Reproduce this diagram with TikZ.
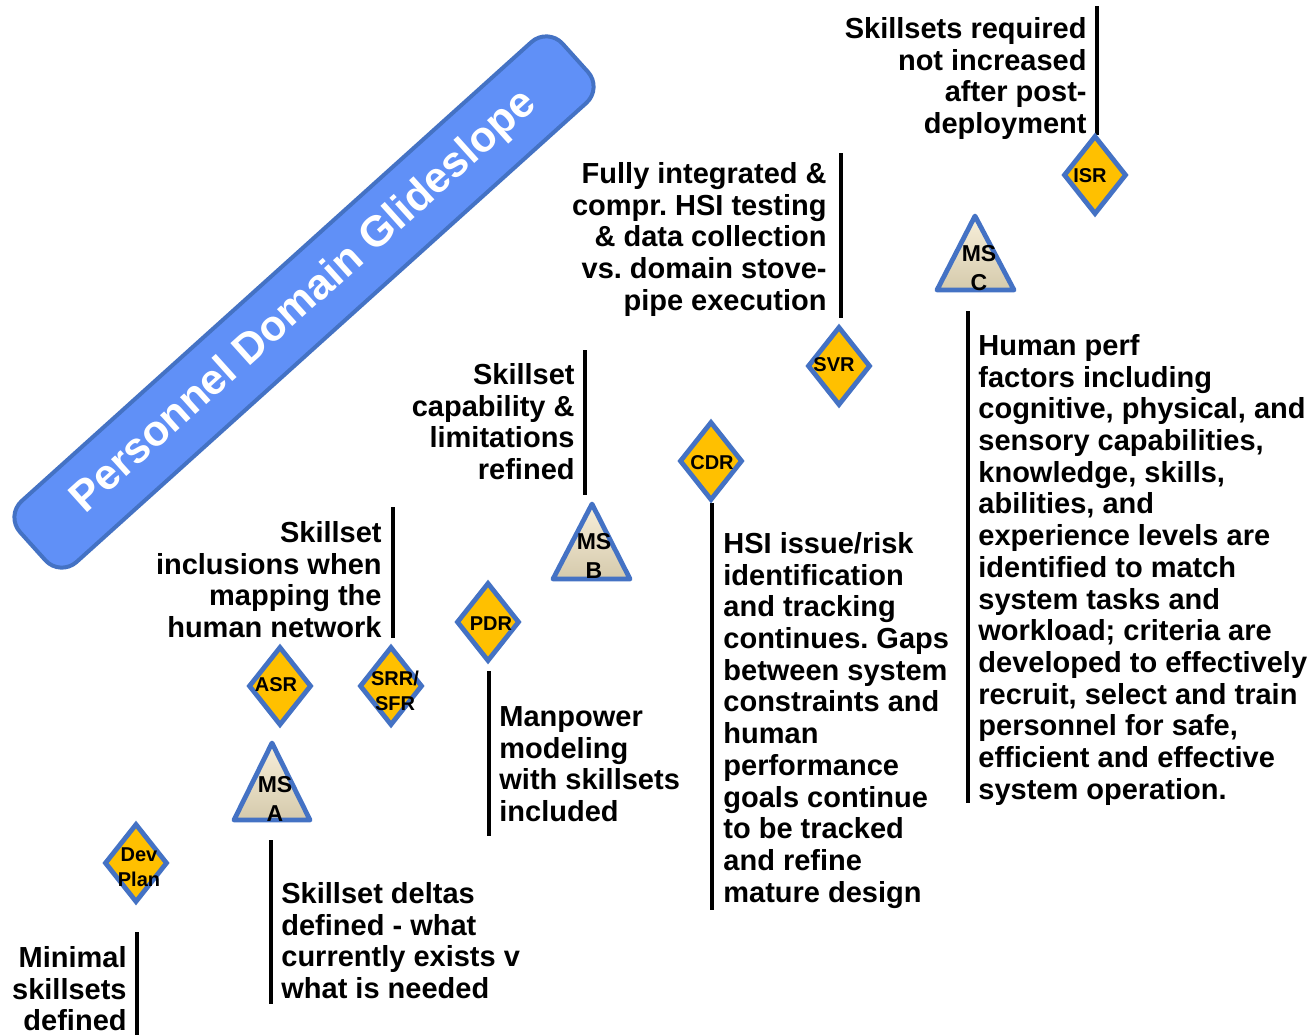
\documentclass[tikz,border=0pt]{standalone}
\usepackage{fontspec}
\setmainfont{Liberation Sans}
\usetikzlibrary{shapes.geometric}
\frenchspacing

\definecolor{hsiblue}{HTML}{4472C4}
\definecolor{hsigold}{HTML}{FFC000}
\definecolor{bannerblue}{HTML}{6090F7}
\definecolor{mstop}{HTML}{F8EFDA}
\definecolor{msbot}{HTML}{D5CAAC}

\tikzset{
  note/.style={font=\fontsize{14.5}{15.85}\selectfont\bfseries, inner sep=0pt},
  noteright/.style={note, align=right, anchor=north east},
  noteleft/.style={note, align=left, anchor=north west},
  bar/.style={line width=2pt},
  review/.style={diamond, draw=hsiblue, fill=hsigold, line width=2.4pt,
    minimum width=31.5pt, minimum height=39.5pt, inner sep=0pt},
  reviewtext/.style={font=\fontsize{10}{12.5}\selectfont\bfseries, align=center, inner sep=0pt},
  milestone/.style={draw=hsiblue, line width=2.4pt, line join=round,
    top color=mstop, bottom color=msbot},
  mstext/.style={font=\fontsize{11.5}{14.5}\selectfont\bfseries, align=center,
    inner sep=0pt, anchor=north},
  banner/.style={draw=hsiblue, fill=bannerblue, line width=2pt, rounded corners=11pt,
    rotate=42, minimum width=365pt, minimum height=41pt, inner sep=0pt,
    text=white, font=\fontsize{21.5}{24}\selectfont\bfseries},
}

\begin{document}
\begin{tikzpicture}[x=0.5pt, y=-0.5pt]
    \useasboundingbox (0,0) rectangle (1311,1035);

    % glideslope banner
    \node[banner] (glide) at (304,302) {Personnel Domain Glideslope};

    % bars beside the notes
    \draw[bar] (137,932) -- (137,1035);
    \draw[bar] (271,840) -- (271,1004);
    \draw[bar] (393,507) -- (393,638);
    \draw[bar] (489,671) -- (489,836);
    \draw[bar] (585,350) -- (585,495);
    \draw[bar] (712,503) -- (712,910);
    \draw[bar] (841,153) -- (841,318);
    \draw[bar] (968,311) -- (968,803);
    \draw[bar] (1097,6) -- (1097,135);

    % reviews
    \foreach \nm/\cx/\cy/\lx/\ly/\txt in {
        devplan/136/863/139/867/{Dev\\Plan},
        asr/280/686/276/685/ASR,
        srr/391/686/395/691/{SRR/\\SFR},
        pdr/488/622/491/624/PDR,
        cdr/711/461/712/463/CDR,
        svr/839/366/834/365/SVR,
        isr/1095/175/1090/176/ISR} {
        \node[review] (\nm) at (\cx,\cy) {};
        \node[reviewtext] (\nm-txt) at (\lx,\ly) {\txt};
    }

    % milestones
    \draw[milestone] (272,743) -- (310,820) -- (234,820) -- cycle;
    \node[mstext] (msa) at (275,776) {MS\\A};
    \draw[milestone] (592,504) -- (630,579) -- (553,579) -- cycle;
    \node[mstext] (msb) at (594,533) {MS\\B};
    \draw[milestone] (975,216) -- (1014,290) -- (937,290) -- cycle;
    \node[mstext] (msc) at (979,245) {MS\\C};

    % notes
    \node[noteright] (minimal) at (127,946) {Minimal\\skillsets\\defined};
    \node[noteleft] (deltas) at (281,882)
        {Skillset deltas\\defined - what\\currently exists v\\what is needed};
    \node[noteright] (inclusions) at (382,521)
        {Skillset\\inclusions when\\mapping the\\human network};
    \node[noteleft] (manpower) at (499,706)
        {Manpower\\modeling\\with skillsets\\included};
    \node[noteright] (capability) at (575,363)
        {Skillset\\capability \&\\limitations\\refined};
    \node[noteleft] (hsirisk) at (723,532)
        {HSI issue/risk\\identification\\and tracking\\continues. Gaps\\between system\\constraints and\\human\\performance\\goals continue\\to be tracked\\and refine\\mature design};
    \node[noteright] (testing) at (827,162)
        {Fully integrated \&\\compr. HSI testing\\\& data collection\\vs. domain stove-\\pipe execution};
    \node[noteleft] (humanperf) at (978,334)
        {Human perf\\factors including\\cognitive, physical, and\\sensory capabilities,\\knowledge, skills,\\abilities, and\\experience levels are\\identified to match\\system tasks and\\workload; criteria are\\developed to effectively\\recruit, select and train\\personnel for safe,\\efficient and effective\\system operation.};
    \node[noteright] (postdeploy) at (1087,17)
        {Skillsets required\\not increased\\after post-\\deployment};
\end{tikzpicture}
\end{document}
